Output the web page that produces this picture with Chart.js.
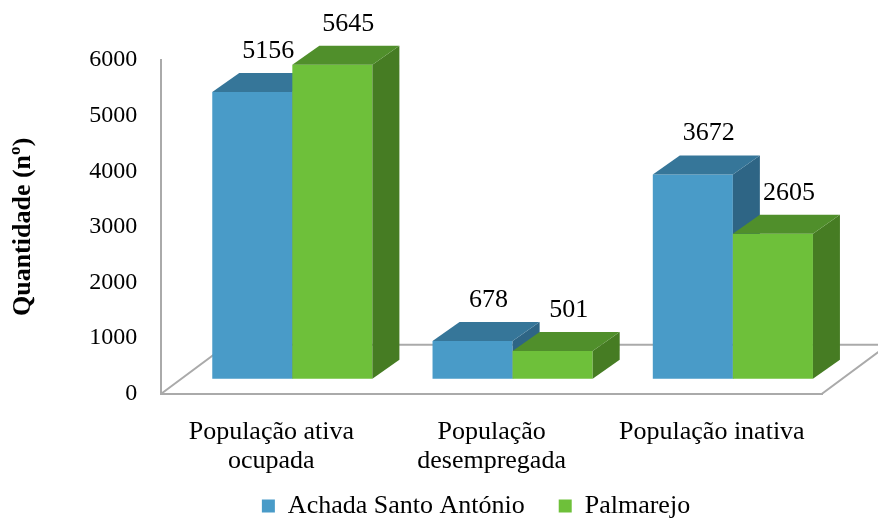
<!DOCTYPE html>
<html>
<head>
<meta charset="utf-8">
<script src="https://cdn.jsdelivr.net/npm/chart.js@4.4.1/dist/chart.umd.min.js"></script>
<style>
    html, body { margin: 0; padding: 0; background: #fff; }
    #wrap { width: 878px; height: 520px; }
</style>
</head>
<body>
<div id="wrap"><canvas id="chart"></canvas></div>
<script>
// Data
const categories = [["População ativa", "ocupada"], ["População", "desempregada"], "População inativa"];
const seriesNames = ["Achada Santo António", "Palmarejo"];
const achadaValues = [5156, 678, 3672];
const palmarejoValues = [5645, 501, 2605];
const yTicks = [0, 1000, 2000, 3000, 4000, 5000, 6000];

// Look
const FONT = "'Liberation Serif', 'Times New Roman', serif";
const frontColors = ["#499BC8", "#6EC03A"];
const topColors = ["#367699", "#508F2B"];
const sideColors = ["#2E6585", "#467C23"];
const axisGrey = "#aaaaaa";

// fake 3D: bars sit mid-depth on the floor
const SHIFT_X = 21, SHIFT_Y = -15;
const DEPTH_X = 27, DEPTH_Y = 19;
const FLOOR_X = 66, FLOOR_Y = 49;
const LABEL_DX = 16, LABEL_DY = 41;
// legend takes little room in the layout, then gets its full box back to draw in
const LEGEND_SHIFT_X = 63, LEGEND_DRAW_H = 70;

const bars3d = {
    id: "bars3d",
    afterLayout(chart) {
        const lg = chart.legend;
        lg.left += LEGEND_SHIFT_X;
        lg.right += LEGEND_SHIFT_X;
        lg.top = lg.bottom - LEGEND_DRAW_H;
    },
    beforeDatasetsDraw(chart) {
        const ctx = chart.ctx;
        const { left, right, bottom } = chart.chartArea;

        // floor outline (front edge is the x axis border)
        ctx.save();
        ctx.strokeStyle = axisGrey;
        ctx.lineWidth = 2;
        ctx.beginPath();
        ctx.moveTo(left, bottom);
        ctx.lineTo(left + FLOOR_X, bottom - FLOOR_Y);
        ctx.lineTo(right + FLOOR_X, bottom - FLOOR_Y);
        ctx.moveTo(right, bottom);
        ctx.lineTo(right + FLOOR_X, bottom - FLOOR_Y);
        ctx.stroke();
        ctx.restore();

        ctx.save();
        ctx.translate(SHIFT_X, SHIFT_Y);
        chart.data.datasets.forEach((ds, i) => {
            chart.getDatasetMeta(i).data.forEach(bar => {
                bar.draw(ctx);
                const l = bar.x - bar.width / 2;
                const r = bar.x + bar.width / 2;

                ctx.fillStyle = sideColors[i];
                ctx.beginPath();
                ctx.moveTo(r, bar.y);
                ctx.lineTo(r + DEPTH_X, bar.y - DEPTH_Y);
                ctx.lineTo(r + DEPTH_X, bar.base - DEPTH_Y);
                ctx.lineTo(r, bar.base);
                ctx.closePath();
                ctx.fill();

                ctx.fillStyle = topColors[i];
                ctx.beginPath();
                ctx.moveTo(l, bar.y);
                ctx.lineTo(r, bar.y);
                ctx.lineTo(r + DEPTH_X, bar.y - DEPTH_Y);
                ctx.lineTo(l + DEPTH_X, bar.y - DEPTH_Y);
                ctx.closePath();
                ctx.fill();
            });
        });

        // value labels
        ctx.fillStyle = "#000";
        ctx.font = "26px " + FONT;
        ctx.textAlign = "center";
        ctx.textBaseline = "middle";
        chart.data.datasets.forEach((ds, i) => {
            chart.getDatasetMeta(i).data.forEach((bar, j) => {
                ctx.fillText(String(ds.data[j]), bar.x + LABEL_DX, bar.y - LABEL_DY);
            });
        });
        ctx.restore();
        return false;
    },
};

new Chart(document.getElementById("chart"), {
    type: "bar",
    data: {
        labels: categories,
        datasets: [
            { label: seriesNames[0], data: achadaValues, backgroundColor: frontColors[0] },
            { label: seriesNames[1], data: palmarejoValues, backgroundColor: frontColors[1] },
        ],
    },
    options: {
        responsive: true,
        maintainAspectRatio: false,
        animation: false,
        categoryPercentage: 0.727,
        barPercentage: 1,
        borderWidth: 0,
        layout: { padding: { left: 4, right: 56, top: 60, bottom: -9 } },
        plugins: {
            tooltip: { enabled: false },
            legend: {
                position: "bottom",
                maxHeight: 29,
                labels: {
                    color: "#000",
                    font: { family: FONT, size: 26 },
                    boxWidth: 13,
                    boxHeight: 13,
                    padding: 34,
                },
            },
        },
        scales: {
            x: {
                grid: { display: false, drawTicks: false },
                border: { display: true, color: axisGrey, width: 2 },
                ticks: {
                    color: "#000",
                    font: { family: FONT, size: 26, lineHeight: 1.12 },
                    padding: 24,
                    maxRotation: 0,
                },
            },
            y: {
                min: yTicks[0],
                max: yTicks[yTicks.length - 1],
                grid: { display: false, drawTicks: false },
                border: { display: true, color: axisGrey, width: 2 },
                ticks: {
                    color: "#000",
                    font: { family: FONT, size: 24 },
                    padding: 24,
                    stepSize: yTicks[1] - yTicks[0],
                    callback: v => String(v),
                },
                title: {
                    display: true,
                    text: "Quantidade (nº)",
                    color: "#000",
                    font: { family: FONT, size: 26, weight: "bold" },
                    padding: { top: 4, bottom: 26 },
                },
            },
        },
    },
    plugins: [bars3d],
});
</script>
</body>
</html>
